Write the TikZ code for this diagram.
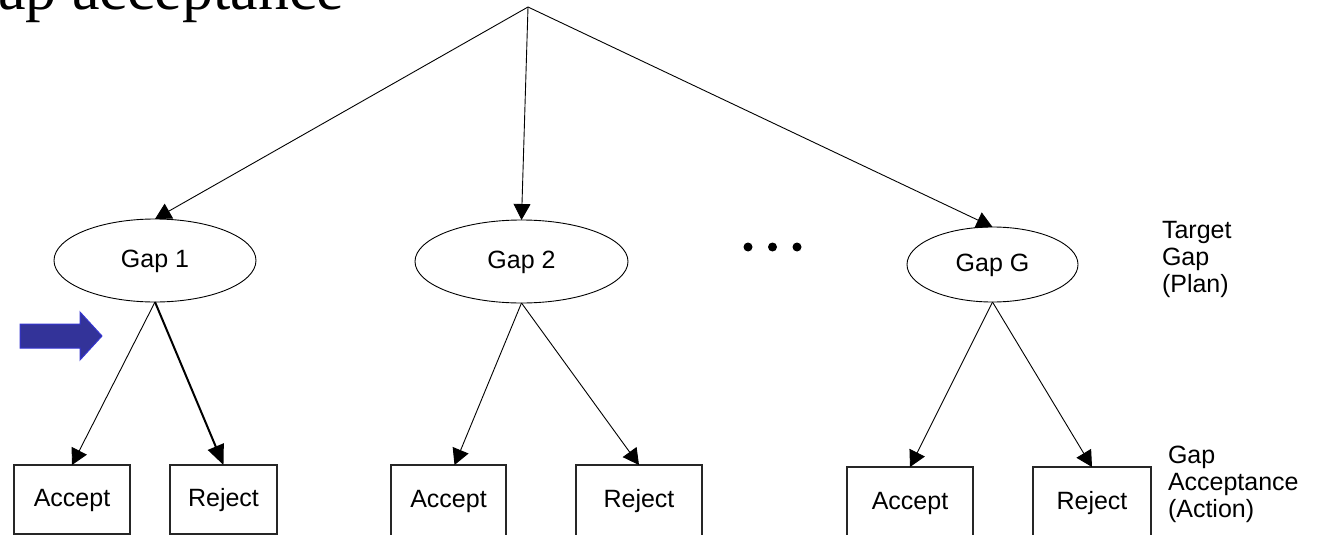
\documentclass[tikz,border=0pt]{standalone}
\usepackage{fontspec}
\setmainfont{Liberation Sans}
\newfontfamily\titlefont{Liberation Serif}
\usetikzlibrary{shapes.geometric,arrows.meta,calc}
\definecolor{arrowblue}{HTML}{333399}
\definecolor{arrowedge}{HTML}{3535D0}

\begin{document}
\begin{tikzpicture}[x=1pt,y=-1pt,
  every node/.style={inner sep=0pt, outer sep=0pt},
  labelfont/.style={font=\fontsize{25}{27}\selectfont},
  gapnode/.style={draw, line width=0.9pt, ellipse, labelfont, text height=18pt, text depth=4pt},
  actbox/.style={draw=black!85, line width=1.2pt, rectangle, labelfont, text height=18pt, text depth=4pt},
  link/.style={line width=0.9pt, -{Triangle[length=16pt,width=17pt]}},
  heavylink/.style={line width=2pt, -{Triangle[length=20pt,width=17pt]}},
  dotmark/.style={circle, fill=black, minimum size=9pt},
  sidenote/.style={labelfont, align=left, anchor=north west}]
\useasboundingbox (0,0) rectangle (1319,535);
\clip (0,0) rectangle (1319,535);

% title, partly cut off by the frame
\node[anchor=base east, font=\titlefont\fontsize{62}{62}\selectfont] (title) at (344,10) {Gap acceptance};

% common origin of the top-level branches
\coordinate (root) at (528,7);

% target gaps
\node[gapnode, minimum width=202pt, minimum height=83pt] (g1) at (155,260.5) {Gap 1};
\node[gapnode, minimum width=213pt, minimum height=83pt] (g2) at (521.5,261.5) {Gap 2};
\node[gapnode, minimum width=171pt, minimum height=75pt] (gG) at (992.5,264.5) {Gap G};

% ellipsis between the gaps
\node[dotmark] (d1) at (748,247) {};
\node[dotmark] (d2) at (772.5,247) {};
\node[dotmark] (d3) at (797,247) {};

% actions
\node[actbox, minimum width=116pt, minimum height=69pt] (acc1) at (72,499.5) {Accept};
\node[actbox, minimum width=107pt, minimum height=69pt] (rej1) at (223.5,499.5) {Reject};
\node[actbox, minimum width=115pt, minimum height=71pt] (acc2) at (448.5,500.5) {Accept};
\node[actbox, minimum width=126pt, minimum height=71pt] (rej2) at (639,500.5) {Reject};
\node[actbox, minimum width=126pt, minimum height=71pt] (accG) at (910,502.5) {Accept};
\node[actbox, minimum width=118pt, minimum height=71pt] (rejG) at (1092,502.5) {Reject};

% level captions
\node[sidenote] (plan) at (1162,221) {Target\\Gap\\(Plan)};
\node[sidenote] (action) at (1168,446) {Gap\\Acceptance\\(Action)};

% connectors
\draw[link] (root) -- (g1.north);
\draw[link] (root) -- (g2.north);
\draw[link] (root) -- (gG.north);

\draw[link] (g1.south) -- (acc1.north);
\draw[heavylink] (g1.south) -- (rej1.north);
\draw[link] (g2.south) -- ($(acc2.north)+(6,0)$);
\draw[link] (g2.south) -- (rej2.north);
\draw[link] (gG.south) -- (accG.north);
\draw[link] (gG.south) -- (rejG.north);

% pointer marking the chosen branch
\draw[arrowedge, fill=arrowblue, line width=1pt]
  (20,324) -- (80,324) -- (80,312) -- (102,336) -- (80,360) -- (80,348) -- (20,348) -- cycle;
\end{tikzpicture}
\end{document}
